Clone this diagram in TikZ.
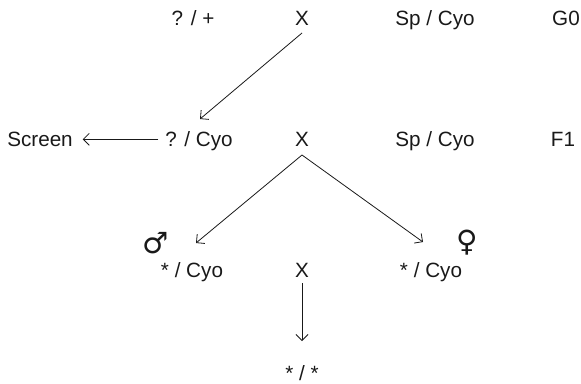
\documentclass[tikz,border=0pt]{standalone}
\usepackage{fontspec}
\setmainfont{Liberation Sans}
\newfontfamily\symfont{DejaVu Sans}
\usetikzlibrary{arrows.meta}
\begin{document}
\begin{tikzpicture}[x=0.75pt,y=-0.75pt,
  lbl/.style={anchor=base,inner sep=0pt,outer sep=0pt,font=\fontsize{15.5}{18}\selectfont,text=black!90},
  sym/.style={anchor=center,inner sep=0pt,outer sep=0pt,font=\symfont\fontsize{22}{24}\selectfont,text=black!90},
  arr/.style={-{Straight Barb[length=4.5pt,width=9pt]},line width=0.6pt,draw=black!90}]
\useasboundingbox (0,0) rectangle (581,383);
% row 1
\node[lbl] (q1) at (193,25) {? / +};
\node[lbl] (x1) at (302,25) {X};
\node[lbl] (s1) at (435,25) {Sp / Cyo};
\node[lbl] (g0) at (566,25) {G0};
% row 2
\node[lbl] (scr) at (40,146) {Screen};
\node[lbl] (q2) at (199,146) {? / Cyo};
\node[lbl] (x2) at (302,146) {X};
\node[lbl] (s2) at (435,146) {Sp / Cyo};
\node[lbl] (f1) at (563,146) {F1};
% row 3
\node[sym] (male) at (156,243) {♂};
\node[lbl] (c1) at (192,277) {* / Cyo};
\node[lbl] (x3) at (302,277) {X};
\node[lbl] (c2) at (431,277) {* / Cyo};
\node[sym] (female) at (467,243) {♀};
% row 4
\node[lbl] (ss) at (302,380) {* / *};
% arrows
\draw[arr] ([yshift=-6pt]x1.south) -- ([shift={(0.75pt,9pt)}]q2.north);
\draw[arr] ([shift={(-5.25pt,1pt)}]q2.west) -- ([shift={(7.5pt,1pt)}]scr.east |- q2.west);
\draw[arr] ([yshift=-6.75pt]x2.south) -- ([shift={(3pt,14.25pt)}]c1.north);
\draw[arr] ([yshift=-6.75pt]x2.south) -- ([shift={(-6pt,15pt)}]c2.north);
\draw[arr] ([yshift=-4.5pt]x3.south) -- ([yshift=18pt]ss.north);
\end{tikzpicture}
\end{document}
